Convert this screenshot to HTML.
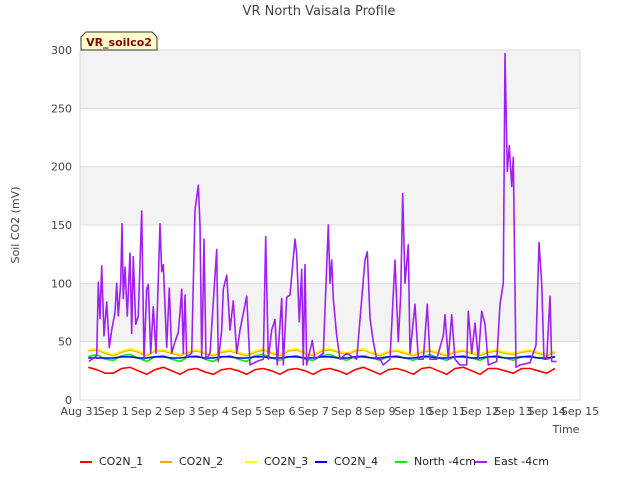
<!DOCTYPE html>
<html><head><meta charset="utf-8"><style>
body{margin:0;background:#fff;font-family:"Liberation Sans","DejaVu Sans",sans-serif;}
svg text{font-family:"DejaVu Sans","Liberation Sans",sans-serif;}
</style></head><body>
<svg id="c" width="640" height="480">
<text x="319" y="15" text-anchor="middle" font-size="13" fill="#444">VR North Vaisala Profile</text>
<g id="bands"></g><g id="grid"></g>
<rect x="80" y="50" width="500" height="350" fill="none" stroke="#d8d8d8"/>
<g id="ticks"></g>
<text transform="translate(19,225) rotate(-90)" text-anchor="middle" font-size="11" fill="#444">Soil CO2 (mV)</text>
<text x="566" y="433" text-anchor="middle" font-size="11" fill="#444">Time</text>
<g id="series"></g>
<g><path d="M81,50 L81,37 L86,32 L152,32 L157,37 L157,50 Z" fill="#ffffcc" stroke="#333"/>
<text x="119" y="46" text-anchor="middle" font-size="11" font-weight="bold" fill="#8b0000">VR_soilco2</text></g>
<g id="legend"></g>
</svg>
<script>
const yTicks=[0,50,100,150,200,250,300];
const xTickLabels=["Aug 31","Sep 1","Sep 2","Sep 3","Sep 4","Sep 5","Sep 6","Sep 7","Sep 8","Sep 9","Sep 10","Sep 11","Sep 12","Sep 13","Sep 14","Sep 15"];
const tStart=0.25, tStep=0.25;
const co2n1=[28,26,23,23,27,28,25,22,26,28,25,22,26,27,24,22,26,27,25,22,26,27,25,22,26,27,25,22,26,27,25,22,26,28,25,22,26,27,25,22,27,28,25,22,27,28,25,22,27,27,25,23,27,27,25,23,27];
const co2n3=[43,44,41,39,42,44,42,39,43,43,41,39,42,43,41,39,42,43,41,39,42,44,41,39,43,44,41,39,43,44,42,40,43,44,41,39,42,43,41,39,42,43,41,39,42,43,41,39,42,43,41,40,42,43,41,39,42];
const co2n2=[42,43,40,38,41,43,41,38,42,42,40,38,41,42,40,38,41,42,40,38,41,43,40,38,42,43,40,38,42,43,41,39,42,43,40,38,41,42,40,38,41,42,40,38,41,42,40,38,41,42,40,39,41,42,40,38,41];
const co2n4=[36,36,36,36,37,37,36,36,37,37,36,36,37,37,36,36,37,37,36,36,37,37,36,36,37,37,36,36,37,37,36,36,37,37,36,36,37,37,36,36,37,37,36,36,37,37,36,36,37,37,36,36,37,37,36,36,37];
const north=[37,39,35,34,38,39,36,33,37,38,35,33,37,38,35,33,37,38,35,33,38,39,36,34,37,38,35,34,38,39,36,34,37,38,36,34,37,38,36,34,37,39,36,34,37,38,36,34,37,38,36,34,37,38,36,35,37];
const east=[[0.27,33],[0.5,38],[0.55,101],[0.6,70],[0.65,115],[0.72,55],[0.8,84],[0.88,45],[0.95,60],[1.05,75],[1.1,100],[1.15,72],[1.22,100],[1.26,151],[1.3,87],[1.35,114],[1.42,72],[1.5,126],[1.55,57],[1.6,123],[1.67,65],[1.75,72],[1.85,162],[1.92,35],[2.0,95],[2.05,99],[2.12,40],[2.2,80],[2.28,40],[2.4,151],[2.45,110],[2.5,116],[2.6,45],[2.68,96],[2.75,40],[2.85,50],[2.95,58],[3.0,75],[3.05,95],[3.1,40],[3.15,90],[3.2,37],[3.35,40],[3.45,163],[3.55,184],[3.6,150],[3.65,37],[3.68,75],[3.72,138],[3.78,35],[3.9,40],[4.1,129],[4.15,33],[4.25,60],[4.3,95],[4.4,107],[4.5,60],[4.6,85],[4.7,40],[4.8,60],[5.0,89],[5.1,30],[5.3,33],[5.5,35],[5.57,140],[5.65,35],[5.75,60],[5.85,69],[5.92,30],[6.05,87],[6.1,30],[6.2,88],[6.3,90],[6.45,138],[6.5,125],[6.58,67],[6.65,112],[6.7,30],[6.75,116],[6.8,30],[6.97,51],[7.05,35],[7.3,40],[7.45,150],[7.5,100],[7.55,120],[7.6,87],[7.7,55],[7.8,35],[8.0,40],[8.3,35],[8.55,120],[8.62,127],[8.7,70],[8.8,50],[8.9,35],[9.0,35],[9.1,30],[9.3,35],[9.45,120],[9.55,50],[9.62,90],[9.68,177],[9.75,100],[9.85,133],[9.9,40],[10.05,82],[10.15,35],[10.3,35],[10.42,82],[10.5,35],[10.7,35],[10.9,55],[10.95,73],[11.05,35],[11.15,73],[11.25,35],[11.4,30],[11.6,30],[11.65,76],[11.75,40],[11.85,66],[11.95,35],[12.05,76],[12.15,65],[12.25,30],[12.5,33],[12.6,82],[12.7,100],[12.75,297],[12.82,196],[12.88,218],[12.95,183],[13.0,208],[13.08,28],[13.2,30],[13.5,32],[13.68,47],[13.77,135],[13.85,100],[13.92,35],[14.0,35],[14.1,89],[14.15,33],[14.3,33]];
const NS="http://www.w3.org/2000/svg";
const X=d=>80+d*500/15, Y=v=>400-v*350/300;
function mk(tag,attrs,parent){const e=document.createElementNS(NS,tag);for(const k in attrs)e.setAttribute(k,attrs[k]);document.getElementById(parent).appendChild(e);return e;}
[[50,100],[150,200],[250,300]].forEach(b=>{const r=mk('rect',{x:80,y:Y(b[1]),width:500,height:Y(b[0])-Y(b[1]),fill:'#f3f3f3'},'bands');

});
yTicks.forEach(v=>{const l=mk('line',{x1:80,x2:580,y1:Y(v),y2:Y(v),stroke:'#dcdcdc'},'grid');


const t=mk('text',{x:72,y:Y(v)+4,'text-anchor':'end','font-size':11,fill:'#444'},'ticks');t.textContent=v;

});
xTickLabels.forEach((s,i)=>{const t=mk('text',{x:X(i),y:415,'text-anchor':'middle','font-size':11,fill:'#444'},'ticks');t.textContent=s;

});
function draw(pts,color,name){const p=pts.map(q=>X(q[0]).toFixed(1)+','+Y(q[1]).toFixed(1)).join(' ');
const e=mk('polyline',{points:p,fill:'none',stroke:color,'stroke-width':1.6,'stroke-linejoin':'round'},'series');

}
const reg=vals=>vals.map((v,i)=>[tStart+i*tStep,v]);
draw(reg(co2n2),'#ffa500','series-co2n-2');
draw(reg(co2n3),'#ffff00','series-co2n-3');
draw(reg(co2n1),'#ff0000','series-co2n-1');
draw(reg(north),'#00ee00','series-north-4cm');
draw(reg(co2n4),'#0000ff','series-co2n-4');
draw(east,'#a020f0','series-east-4cm');
const legNames=["CO2N_1","CO2N_2","CO2N_3","CO2N_4","North -4cm","East -4cm"];
const legColors=['#ff0000','#ffa500','#ffff00','#0000ff','#00ee00','#a020f0'];
const legX=[80,160,245,315,395,475];
legNames.forEach((n,i)=>{const g=mk('g',{},'legend');


const l=document.createElementNS(NS,'line');l.setAttribute('x1',legX[i]);l.setAttribute('x2',legX[i]+12);l.setAttribute('y1',462);l.setAttribute('y2',462);l.setAttribute('stroke',legColors[i]);l.setAttribute('stroke-width',2);g.appendChild(l);
const t=document.createElementNS(NS,'text');t.setAttribute('x',legX[i]+19);t.setAttribute('y',465);t.setAttribute('font-size',11);t.setAttribute('fill','#222');t.textContent=n;g.appendChild(t);});
</script>
</body></html>
